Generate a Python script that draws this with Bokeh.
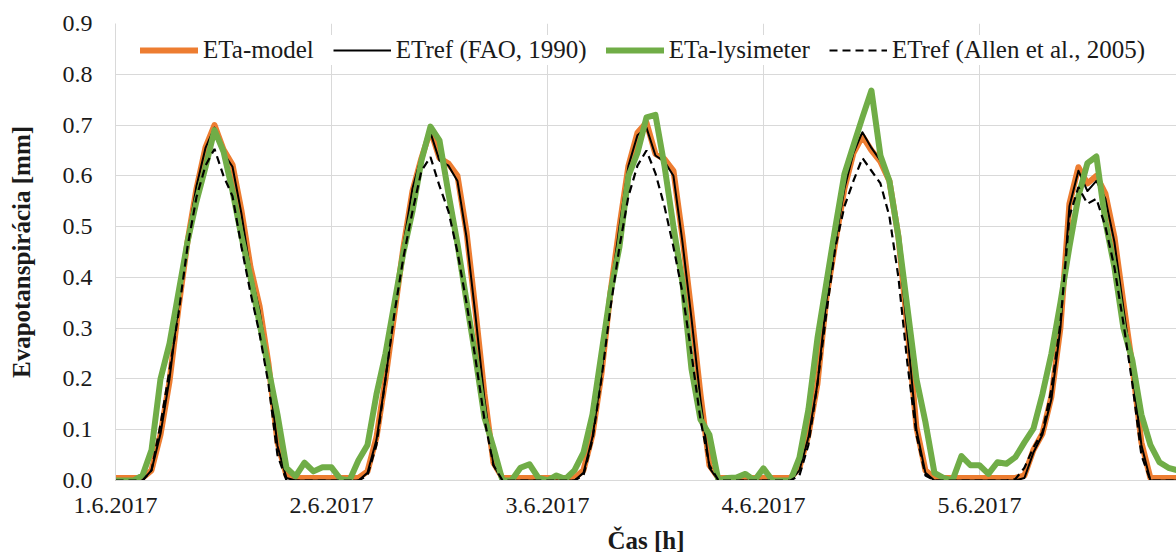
from bokeh.plotting import figure
from bokeh.models import Range1d, FixedTicker, Legend, LegendItem, PrintfTickFormatter
from bokeh.embed import file_html
from bokeh.resources import INLINE

# time in hours from 1.6.2017 00:00
hours = list(range(119))

# ETa-model (orange)
eta_model = [
    0.005, 0.005, 0.005, 0.005, 0.02, 0.09, 0.195, 0.34, 0.47, 0.575, 0.656, 0.70,
    0.652, 0.622, 0.531, 0.42, 0.344, 0.23, 0.075, 0.01, 0.005, 0.005, 0.005, 0.005,
    0.005, 0.005, 0.005, 0.005, 0.018, 0.085, 0.2, 0.33, 0.46, 0.57, 0.635, 0.69,
    0.635, 0.624, 0.60, 0.49, 0.335, 0.17, 0.035, 0.005, 0.005, 0.005, 0.005, 0.005,
    0.005, 0.005, 0.005, 0.005, 0.02, 0.09, 0.21, 0.37, 0.5, 0.62, 0.685, 0.705,
    0.643, 0.633, 0.61, 0.48, 0.33, 0.17, 0.03, 0.005, 0.005, 0.005, 0.005, 0.005,
    0.005, 0.005, 0.005, 0.005, 0.025, 0.09, 0.19, 0.36, 0.47, 0.575, 0.645, 0.678,
    0.65, 0.628, 0.59, 0.48, 0.30, 0.105, 0.02, 0.005, 0.005, 0.005, 0.005, 0.005,
    0.005, 0.005, 0.005, 0.005, 0.005, 0.01, 0.06, 0.092, 0.165, 0.3, 0.545, 0.617,
    0.585, 0.6, 0.565, 0.48, 0.35, 0.225, 0.075, 0.005, 0.005, 0.005, 0.005,
]

# ETref (FAO, 1990) (black solid)
etref_fao = [
    0, 0, 0, 0, 0.02, 0.092, 0.2, 0.345, 0.475, 0.58, 0.655, 0.695,
    0.645, 0.618, 0.525, 0.41, 0.335, 0.22, 0.068, 0.005, 0, 0, 0, 0,
    0, 0, 0, 0, 0.015, 0.08, 0.2, 0.335, 0.465, 0.575, 0.64, 0.685,
    0.63, 0.62, 0.59, 0.48, 0.325, 0.16, 0.03, 0, 0, 0, 0, 0,
    0, 0, 0, 0, 0.015, 0.085, 0.21, 0.37, 0.5, 0.62, 0.68, 0.695,
    0.64, 0.628, 0.6, 0.47, 0.32, 0.16, 0.025, 0, 0, 0, 0, 0,
    0, 0, 0, 0, 0.02, 0.085, 0.19, 0.355, 0.47, 0.575, 0.645, 0.686,
    0.655, 0.63, 0.59, 0.47, 0.29, 0.1, 0.015, 0, 0, 0, 0, 0,
    0, 0, 0, 0, 0, 0.005, 0.055, 0.09, 0.16, 0.3, 0.54, 0.61,
    0.57, 0.59, 0.555, 0.47, 0.34, 0.215, 0.07, 0, 0, 0, 0,
]

# ETa-lysimeter (green)
eta_lysimeter = [
    0, 0, 0, 0.01, 0.06, 0.2, 0.27, 0.37, 0.47, 0.55, 0.617, 0.69,
    0.648, 0.57, 0.48, 0.4, 0.31, 0.22, 0.13, 0.025, 0.008, 0.035, 0.018, 0.026,
    0.026, 0.003, 0.0, 0.04, 0.07, 0.17, 0.25, 0.35, 0.45, 0.53, 0.63, 0.697,
    0.67, 0.565, 0.466, 0.354, 0.243, 0.124, 0.065, 0.0, 0.0, 0.025, 0.032, 0.005,
    0.0, 0.01, 0.003, 0.02, 0.055, 0.13, 0.25, 0.37, 0.46, 0.6, 0.645, 0.715,
    0.72, 0.62, 0.5, 0.39, 0.22, 0.12, 0.09, 0.0, 0.005, 0.006, 0.013, 0.0,
    0.024, 0.0, 0.0, 0.0, 0.045, 0.14, 0.28, 0.39, 0.5, 0.604, 0.66, 0.715,
    0.768, 0.64, 0.59, 0.48, 0.34, 0.2, 0.115, 0.015, 0.005, 0.0, 0.048, 0.03,
    0.03, 0.013, 0.036, 0.033, 0.046, 0.075, 0.102, 0.17, 0.25, 0.35, 0.46, 0.56,
    0.625, 0.638, 0.51, 0.42, 0.3, 0.236, 0.13, 0.07, 0.036, 0.025, 0.02,
]

# ETref (Allen et al., 2005) (black dashed)
etref_allen = [
    0, 0, 0, 0, 0.02, 0.11, 0.217, 0.328, 0.46, 0.558, 0.62, 0.653,
    0.60, 0.56, 0.46, 0.37, 0.29, 0.19, 0.05, 0, 0, 0, 0, 0,
    0, 0, 0, 0, 0.01, 0.07, 0.2, 0.33, 0.44, 0.53, 0.61, 0.637,
    0.58, 0.53, 0.45, 0.35, 0.24, 0.12, 0.03, 0, 0, 0, 0, 0,
    0, 0, 0, 0, 0.01, 0.08, 0.2, 0.34, 0.46, 0.56, 0.62, 0.65,
    0.605, 0.54, 0.46, 0.37, 0.25, 0.12, 0.03, 0, 0, 0, 0, 0,
    0, 0, 0, 0, 0.01, 0.07, 0.19, 0.33, 0.46, 0.54, 0.59, 0.635,
    0.61, 0.585, 0.52, 0.4, 0.23, 0.09, 0.01, 0, 0, 0, 0, 0,
    0, 0, 0, 0, 0.003, 0.025, 0.065, 0.095, 0.18, 0.31, 0.52, 0.578,
    0.545, 0.555, 0.5, 0.42, 0.31, 0.19, 0.05, 0, 0, 0, 0,
]

x_ticks = [0, 24, 48, 72, 96]
x_tick_labels = ["1.6.2017", "2.6.2017", "3.6.2017", "4.6.2017", "5.6.2017"]
y_ticks = [0.0, 0.1, 0.2, 0.3, 0.4, 0.5, 0.6, 0.7, 0.8, 0.9]

series_labels = ["ETa-model", "ETref (FAO, 1990)", "ETa-lysimeter", "ETref (Allen et al., 2005)"]

FONT = "Liberation Serif"
GRID = "#D9D9D9"

p = figure(width=1176, height=556, output_backend="svg", toolbar_location=None,
           x_range=Range1d(0, 117.9), y_range=Range1d(0, 0.9),
           min_border_left=115, min_border_right=0, min_border_top=23, min_border_bottom=76)
p.outline_line_color = None
p.background_fill_color = "white"

r_model = p.line(hours, eta_model, line_color="#ED7D31", line_width=6, line_join="round", line_cap="round")
r_fao = p.line(hours, etref_fao, line_color="black", line_width=2, line_join="round")
r_lys = p.line(hours, eta_lysimeter, line_color="#70AD47", line_width=6, line_join="round", line_cap="round")
r_allen = p.line(hours, etref_allen, line_color="black", line_width=2.2, line_dash="8 5")

# axes
p.xaxis.ticker = FixedTicker(ticks=x_ticks)
p.xaxis.major_label_overrides = {t: l for t, l in zip(x_ticks, x_tick_labels)}
p.yaxis.ticker = FixedTicker(ticks=y_ticks)
p.yaxis.formatter = PrintfTickFormatter(format="%.1f")
p.xgrid.ticker = FixedTicker(ticks=x_ticks)
p.ygrid.ticker = FixedTicker(ticks=y_ticks)
p.xgrid.grid_line_color = GRID
p.ygrid.grid_line_color = GRID

for ax in (p.xaxis[0], p.yaxis[0]):
    ax.axis_line_color = GRID
    ax.major_tick_line_color = None
    ax.minor_tick_line_color = None
    ax.major_tick_out = 0
    ax.major_tick_in = 0
    ax.major_label_text_font = FONT
    ax.major_label_text_font_size = "24px"
    ax.major_label_text_color = "#1a1a1a"
    ax.axis_label_text_font = FONT
    ax.axis_label_text_font_size = "25px"
    ax.axis_label_text_font_style = "bold"
    ax.axis_label_text_color = "#1a1a1a"

p.xaxis.axis_label = "Čas [h]"
p.xaxis.major_label_standoff = 17
p.xaxis.axis_label_standoff = 11
p.yaxis.axis_label = "Evapotanspirácia [mm]"
p.yaxis.major_label_standoff = 23
p.yaxis.axis_label_standoff = 25

legend = Legend(items=[
    LegendItem(label=series_labels[0], renderers=[r_model]),
    LegendItem(label=series_labels[1], renderers=[r_fao]),
    LegendItem(label=series_labels[2], renderers=[r_lys]),
    LegendItem(label=series_labels[3], renderers=[r_allen]),
], orientation="horizontal", location=(25, 415))
legend.label_text_font = FONT
legend.label_text_font_size = "25px"
legend.label_text_color = "#1a1a1a"
legend.glyph_width = 58
legend.glyph_height = 30
legend.label_height = 30
legend.label_standoff = 5
legend.spacing = 19
legend.padding = 5
legend.margin = 0
legend.border_line_color = None
legend.background_fill_color = "white"
legend.background_fill_alpha = 1.0
p.add_layout(legend)

open("out.html", "w").write(file_html(p, INLINE))
